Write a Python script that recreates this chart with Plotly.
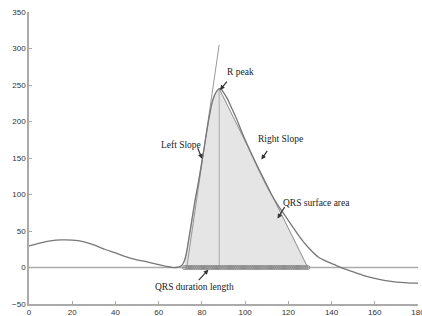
import plotly.graph_objects as go

# ECG-like signal (x in samples, y in amplitude)
sig_x = [0, 5, 10, 15, 20, 25, 30, 35, 40, 45, 50, 55, 60, 63, 66, 68, 70, 71, 72, 73, 74, 75,
         76, 77, 78, 79, 80, 81, 82, 83, 84, 85, 86, 87, 88, 89, 90, 92, 94, 96, 98, 100, 103,
         106, 109, 112, 115, 118, 121, 124, 127, 130, 134, 138, 142, 146, 150, 155, 160, 165,
         170, 175, 180]
sig_y = [29.5, 33.5, 36.5, 37.8, 37.5, 35.5, 31, 25, 20, 14.5, 10.5, 7.5, 4, 2, 0.3, 0, 1.5, 4,
         10, 22, 40, 58, 77, 95, 110, 127, 145, 163, 182, 200, 216, 229, 237, 242, 245, 244, 240,
         230, 217, 204, 189, 175, 155, 136, 118, 101, 86, 73, 60, 47, 35, 25, 14, 8, 3, -2, -6,
         -11, -15, -18, -20, -21, -21.5]

qrs_start = 72
r_peak_x = 88
r_peak_y = 245
qrs_end = 129
left_slope_x = [73, 88]
left_slope_y = [0, 305]
right_slope_x = [88, 129]
right_slope_y = [245, 0]
duration_x = list(range(72, 130))
duration_y = [0] * len(duration_x)

x_ticks = [0, 20, 40, 60, 80, 100, 120, 140, 160, 180]
y_ticks = [-50, 0, 50, 100, 150, 200, 250, 300, 350]

# shaded QRS area: curve on the left up to the peak, right-slope line down to baseline
area_x = [x for x in sig_x if qrs_start <= x <= r_peak_x] + [qrs_end, qrs_start]
area_y = [y for x, y in zip(sig_x, sig_y) if qrs_start <= x <= r_peak_x] + [0, 0]

fig = go.Figure()
fig.add_trace(go.Scatter(x=area_x, y=area_y, mode="lines", fill="toself",
                         fillcolor="#e5e5e5", line=dict(color="#bbbbbb", width=0.8),
                         hoverinfo="skip"))
fig.add_trace(go.Scatter(x=[0, 180], y=[0, 0], mode="lines",
                         line=dict(color="#aaaaaa", width=1.5)))
fig.add_trace(go.Scatter(x=[r_peak_x, r_peak_x], y=[0, r_peak_y], mode="lines",
                         line=dict(color="#aaaaaa", width=1)))
fig.add_trace(go.Scatter(x=right_slope_x, y=right_slope_y, mode="lines",
                         line=dict(color="#999999", width=1)))
fig.add_trace(go.Scatter(x=left_slope_x, y=left_slope_y, mode="lines",
                         line=dict(color="#999999", width=1)))
fig.add_trace(go.Scatter(x=sig_x, y=sig_y, mode="lines",
                         line=dict(color="#777777", width=1.3, shape="spline", smoothing=0.5)))
fig.add_trace(go.Scatter(x=duration_x, y=duration_y, mode="markers",
                         marker=dict(symbol="circle-open", size=4, color="#888888",
                                     line=dict(width=1))))

serif = dict(family="Liberation Serif", size=9.5, color="#222222")
texts = [
    ("R peak", 98, 268),
    ("Left Slope", 70.5, 168),
    ("Right Slope", 116.5, 176),
    ("QRS surface area", 133, 89),
    ("QRS duration length", 76.5, -27),
]
for t, tx, ty in texts:
    fig.add_annotation(x=tx, y=ty, text=t, showarrow=False, font=serif)

arrows = [
    (88.4, 243, 8, -10),
    (80.1, 149, -5, -12),
    (107.5, 148, 7, -10),
    (115, 67, 8, -13),
    (83, -3, -11, 12),
]
for x, y, ax, ay in arrows:
    fig.add_annotation(x=x, y=y, ax=ax, ay=ay, text="", showarrow=True,
                       arrowhead=2, arrowsize=0.8, arrowwidth=1.2, arrowcolor="#333333")

axis_common = dict(showgrid=False, zeroline=False, showline=True, linecolor="#aaaaaa",
                   linewidth=1.5, ticks="inside", ticklen=3, tickcolor="#aaaaaa",
                   automargin=False, ticklabeloverflow="allow",
                   tickfont=dict(family="Liberation Sans", size=8, color="#333333"))
fig.update_xaxes(range=[0, 180], tickvals=x_ticks, **axis_common)
fig.update_yaxes(range=[-50, 350], tickvals=y_ticks, **axis_common)
fig.update_layout(width=422, height=316, showlegend=False,
                  margin=dict(l=29, r=4, t=12, b=12),
                  plot_bgcolor="white", paper_bgcolor="white")
fig.write_html("out.html", config={"displayModeBar": False},
               post_script="document.body.style.margin='0';document.body.style.overflow='hidden';")
